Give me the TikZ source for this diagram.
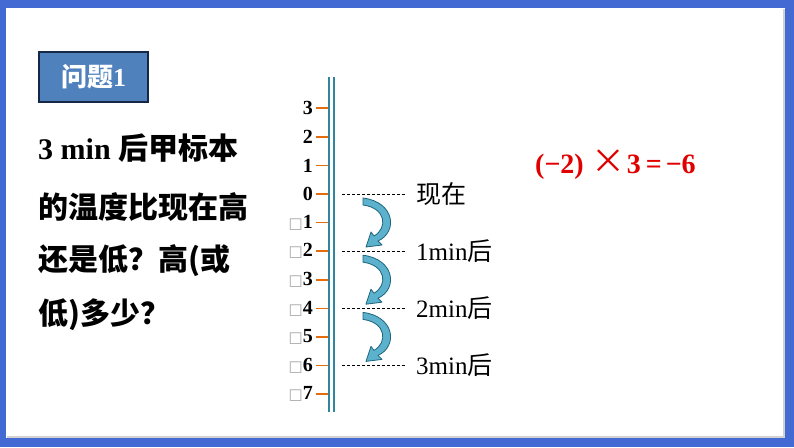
\documentclass[tikz,border=0pt]{standalone}
\usepackage{fontspec}
\setmainfont{Liberation Serif}
\newfontfamily\cjk{Noto Sans CJK SC}
\newfontfamily\dej{DejaVu Sans}
\definecolor{frameblue}{RGB}{66,106,210}
\definecolor{boxblue}{RGB}{79,129,189}
\definecolor{boxnavy}{RGB}{22,40,70}
\definecolor{axisteal}{RGB}{49,133,156}
\definecolor{tickorange}{RGB}{228,108,10}
\definecolor{arrowfill}{RGB}{92,178,204}
\definecolor{arrowedge}{RGB}{30,100,125}
\definecolor{eqred}{RGB}{225,0,0}

\begin{document}
\begin{tikzpicture}[x=1pt, y=-1pt,
    qbox/.style={draw=boxnavy, line width=1.5pt, fill=boxblue, text=white, minimum width=109pt, minimum height=50pt, inner sep=0pt, font=\fontsize{26}{26}\selectfont\bfseries},
    textline/.style={anchor=west, inner sep=0pt, font=\fontsize{30}{30}\selectfont\bfseries},
    tick/.style={draw=tickorange, line width=1.6pt},
    num/.style={anchor=east, inner sep=0pt, font=\fontsize{20}{20}\selectfont\bfseries},
    lead/.style={draw, line width=0.7pt, dash pattern=on 3pt off 2pt},
    when/.style={anchor=west, inner sep=0pt, font=\fontsize{25}{25}\selectfont},
    bendarrow/.style={fill=arrowfill, draw=arrowedge, line width=0.8pt, line join=round},
]
    % frame
    \fill[frameblue] (0,0) rectangle (794,447);
    \fill[white] (6,8) rectangle (785,438);
    \draw[gray!35, line width=1.5pt] (7,437) -- (784,437) -- (784,9);
    \useasboundingbox (0,0) rectangle (794,447);

    % question
    \node[qbox] (q) at (93.5,77) {{\cjk 问题}1};
    \node[textline] (l1) at (38,148) {3 min {\cjk 后甲标本}};
    \node[textline] (l2) at (38,207) {\cjk 的温度比现在高};
    \node[textline] (l3) at (38,261) {\cjk 还是低？高(或};
    \node[textline] (l4) at (38,315) {\cjk 低)多少？};

    % number line
    \draw[axisteal, line width=2pt] (328.5,77) -- (328.5,412);
    \draw[axisteal, line width=2pt] (333.5,77) -- (333.5,412);
    \foreach \k in {3,...,-7} {
        \pgfmathsetmacro\ty{194-28.6*\k}
        \pgfmathtruncatemacro\a{abs(\k)}
        \coordinate (t\a\ifnum\k<0 m\fi) at (316,\ty);
        \draw[tick] (316,\ty) -- (328,\ty);
        \node[num] (n\a\ifnum\k<0 m\fi) at (313,\ty)
            {\ifnum\k<0 {\dej\mdseries\fontsize{15}{15}\selectfont\color{gray!70}□}\fi\a};
    }

    % dashed leads and times
    \foreach \k/\t in {0/{\cjk 现在}, 2/{1min{\cjk 后}}, 4/{2min{\cjk 后}}, 6/{3min{\cjk 后}}} {
        \pgfmathsetmacro\ty{194+28.6*\k}
        \coordinate (d\k) at (342,\ty);
        \node[when] (w\k) at (416,\ty) {\t};
        \draw[lead] (d\k) -- (405,\ty);
    }

    % curved arrows
    \foreach \k in {0,2,4} {
        \begin{scope}[shift={(0,194+28.6*\k)}]
            \draw[bendarrow] (363,4) .. controls (395,8) and (398,38) .. (378,47)
                -- (382,51) -- (366,53) -- (371,38) -- (374,42)
                .. controls (388,34) and (386,14) .. (363,11) -- cycle;
        \end{scope}
    }

    % equation
    \node[anchor=west, inner sep=0pt, text=eqred, font=\fontsize{28}{28}\selectfont\bfseries] (eq) at (535,165)
        {(−2)\hspace{8pt}{\cjk\mdseries\fontsize{34}{34}\selectfont ×}\hspace{1pt}3\hspace{5pt}=\hspace{4pt}−6};
\end{tikzpicture}
\end{document}
